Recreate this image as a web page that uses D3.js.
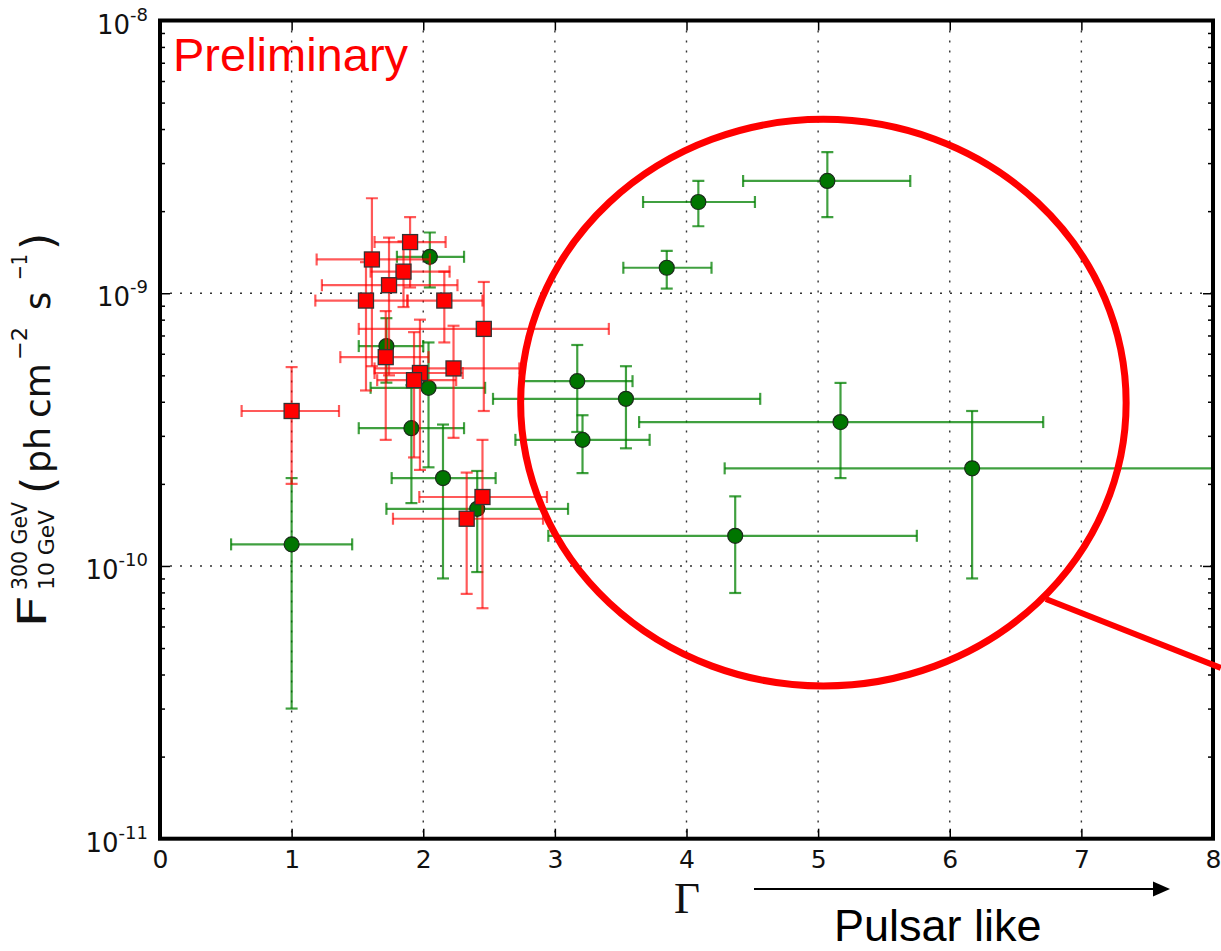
<!DOCTYPE html>
<html>
<head>
<meta charset="utf-8">
<script src="https://cdn.jsdelivr.net/npm/d3@7.9.0/dist/d3.min.js"></script>
<style>
  body { margin: 0; background: #fff; }
  svg { display: block; font-family: "DejaVu Sans", sans-serif; }
</style>
</head>
<body>
<div id="chart"></div>
<script>
// green sources (circles)
const greenGamma   = [1.00, 1.72, 2.04, 1.91, 2.15, 2.41, 2.05, 3.85, 4.09, 5.07, 3.17, 3.54, 3.21, 5.17, 6.17, 4.37];
const greenGammaLo = [0.54, 1.51, 1.60, 1.51, 1.76, 1.72, 1.80, 3.52, 3.67, 4.43, 2.75, 2.53, 2.70, 3.64, 4.29, 2.95];
const greenGammaHi = [1.46, 2.00, 2.47, 2.31, 2.55, 3.10, 2.31, 4.19, 4.52, 5.70, 3.59, 4.56, 3.72, 6.71, 8.60, 5.75];
const greenFlux    = [1.2e-10, 6.4e-10, 4.5e-10, 3.2e-10, 2.1e-10, 1.62e-10, 1.36e-9, 1.24e-9, 2.16e-9, 2.58e-9, 4.76e-10, 4.1e-10, 2.9e-10, 3.37e-10, 2.28e-10, 1.29e-10];
const greenFluxLo  = [3.0e-11, 4.7e-10, 2.3e-10, 1.7e-10, 9.0e-11, 9.5e-11, 1.05e-9, 1.04e-9, 1.76e-9, 1.9e-9, 3.1e-10, 2.7e-10, 2.19e-10, 2.1e-10, 9.0e-11, 7.96e-11];
const greenFluxHi  = [2.1e-10, 8.1e-10, 6.6e-10, 4.6e-10, 3.3e-10, 2.23e-10, 1.67e-9, 1.43e-9, 2.58e-9, 3.29e-9, 6.46e-10, 5.4e-10, 3.57e-10, 4.69e-10, 3.7e-10, 1.8e-10];

// red sources (squares)
const redGamma   = [1.61, 1.90, 1.85, 1.74, 1.565, 2.16, 2.46, 1.715, 1.975, 1.93, 2.23, 1.00, 2.45, 2.33];
const redGammaLo = [1.19, 1.63, 1.60, 1.23, 1.18, 1.88, 1.51, 1.37, 1.63, 1.65, 1.63, 0.62, 1.97, 1.77];
const redGammaHi = [2.05, 2.17, 2.20, 2.26, 1.88, 2.45, 3.41, 2.04, 2.30, 2.25, 2.73, 1.36, 2.94, 2.91];
const redFlux    = [1.33e-9, 1.54e-9, 1.2e-9, 1.07e-9, 9.4e-10, 9.4e-10, 7.4e-10, 5.83e-10, 5.1e-10, 4.8e-10, 5.3e-10, 3.7e-10, 1.79e-10, 1.49e-10];
const redFluxLo  = [5.4e-10, 1.05e-9, 8.9e-10, 5.0e-10, 4.4e-10, 6.6e-10, 3.7e-10, 2.9e-10, 2.25e-10, 2.5e-10, 2.95e-10, 2.0e-10, 7.0e-11, 7.9e-11];
const redFluxHi  = [2.23e-9, 1.9e-9, 1.55e-9, 1.6e-9, 1.3e-9, 1.2e-9, 1.1e-9, 8.6e-10, 8.0e-10, 7.2e-10, 7.6e-10, 5.36e-10, 2.9e-10, 2.2e-10];

const xTicks = [0, 1, 2, 3, 4, 5, 6, 7, 8];
const yTicks = [1e-11, 1e-10, 1e-9, 1e-8];
const yTickExp = ['-11', '-10', '-9', '-8'];

// annotation (in data units)
const ringGamma = [2.74, 7.34];
const ringFlux = [3.63e-11, 4.34e-9];
const pointerGamma = [6.73, 8.06];
const pointerFlux = [7.57e-11, 4.23e-11];

function toRows(g, gLo, gHi, f, fLo, fHi) {
  return g.map((d, i) => ({ g: d, gLo: gLo[i], gHi: gHi[i], f: f[i], fLo: fLo[i], fHi: fHi[i] }));
}
const greens = toRows(greenGamma, greenGammaLo, greenGammaHi, greenFlux, greenFluxLo, greenFluxHi);
const reds = toRows(redGamma, redGammaLo, redGammaHi, redFlux, redFluxLo, redFluxHi);

const width = 1221;
const height = 951;
const margin = { top: 20.5, right: 8, bottom: 112.3, left: 160 };

const svg = d3.select('#chart')
  .append('svg')
  .attr('width', width)
  .attr('height', height);

const x = d3.scaleLinear()
  .domain([0, 8])
  .range([margin.left, width - margin.right]);

const y = d3.scaleLog()
  .domain([1e-11, 1e-8])
  .range([height - margin.bottom, margin.top]);

const [x0, x1] = x.range();
const [yb, yt] = y.range();

svg.append('defs').append('clipPath').attr('id', 'plot-clip')
  .append('rect')
  .attr('x', x0).attr('y', yt)
  .attr('width', x1 - x0).attr('height', yb - yt);

// gridlines
const grid = svg.append('g')
  .attr('stroke', '#333')
  .attr('stroke-width', 1.4)
  .attr('stroke-dasharray', '2,8');

grid.selectAll('line.vx')
  .data(xTicks.slice(1, -1))
  .join('line')
  .attr('x1', d => x(d)).attr('x2', d => x(d))
  .attr('y1', yt).attr('y2', yb);

grid.selectAll('line.hy')
  .data(yTicks.slice(1, -1))
  .join('line')
  .attr('x1', x0).attr('x2', x1)
  .attr('y1', d => y(d)).attr('y2', d => y(d));

// minor decade ticks
const minors = [];
for (let e = -11; e < -8; e++) {
  for (let m = 2; m < 10; m++) minors.push(m * Math.pow(10, e));
}

function styleAxis(g) {
  g.select('.domain').remove();
  g.selectAll('.tick line').attr('stroke', '#000').attr('stroke-width', 1.5);
}

// bottom axis
svg.append('g')
  .attr('transform', `translate(0, ${yb})`)
  .call(d3.axisBottom(x).tickValues(xTicks).tickSizeInner(-10).tickSizeOuter(0).tickPadding(12))
  .call(styleAxis)
  .call(g => g.selectAll('text')
    .attr('font-size', 25)
    .attr('fill', '#111')
    .style('font-family', '"DejaVu Sans", sans-serif'));

// top axis
svg.append('g')
  .attr('transform', `translate(0, ${yt})`)
  .call(d3.axisTop(x).tickValues(xTicks).tickSizeInner(-10).tickSizeOuter(0).tickFormat(''))
  .call(styleAxis);

// left & right axes (major + minor)
svg.append('g')
  .attr('transform', `translate(${x0}, 0)`)
  .call(d3.axisLeft(y).tickValues(yTicks).tickSizeInner(-10).tickSizeOuter(0).tickFormat(''))
  .call(styleAxis);
svg.append('g')
  .attr('transform', `translate(${x0}, 0)`)
  .call(d3.axisLeft(y).tickValues(minors).tickSizeInner(-5).tickSizeOuter(0).tickFormat(''))
  .call(styleAxis);
svg.append('g')
  .attr('transform', `translate(${x1}, 0)`)
  .call(d3.axisRight(y).tickValues(yTicks).tickSizeInner(-10).tickSizeOuter(0).tickFormat(''))
  .call(styleAxis);
svg.append('g')
  .attr('transform', `translate(${x1}, 0)`)
  .call(d3.axisRight(y).tickValues(minors).tickSizeInner(-5).tickSizeOuter(0).tickFormat(''))
  .call(styleAxis);

// y tick labels: 10^exp
const yLab = svg.append('g')
  .selectAll('text')
  .data(yTicks)
  .join('text')
  .attr('text-anchor', 'end')
  .attr('x', x0 - 12)
  .attr('y', d => y(d) + 13)
  .attr('fill', '#111')
  .attr('font-size', 26);
yLab.append('tspan').text('10');
yLab.append('tspan')
  .attr('font-size', 18)
  .attr('dy', -13)
  .text((d, i) => yTickExp[i]);

// error bars + markers
function drawSeries(rows, color, barOpacity) {
  const g = svg.append('g').attr('clip-path', 'url(#plot-clip)');
  const bars = g.append('g')
    .attr('stroke', color)
    .attr('stroke-opacity', barOpacity)
    .attr('stroke-width', 2.2)
    .selectAll('g')
    .data(rows)
    .join('g');
  bars.append('line')
    .attr('x1', d => x(d.gLo)).attr('x2', d => x(d.gHi))
    .attr('y1', d => y(d.f)).attr('y2', d => y(d.f));
  bars.append('line')
    .attr('x1', d => x(d.g)).attr('x2', d => x(d.g))
    .attr('y1', d => y(d.fLo)).attr('y2', d => y(d.fHi));
  // caps
  bars.append('line')
    .attr('x1', d => x(d.gLo)).attr('x2', d => x(d.gLo))
    .attr('y1', d => y(d.f) - 6).attr('y2', d => y(d.f) + 6);
  bars.append('line')
    .attr('x1', d => x(d.gHi)).attr('x2', d => x(d.gHi))
    .attr('y1', d => y(d.f) - 6).attr('y2', d => y(d.f) + 6);
  bars.append('line')
    .attr('x1', d => x(d.g) - 6).attr('x2', d => x(d.g) + 6)
    .attr('y1', d => y(d.fLo)).attr('y2', d => y(d.fLo));
  bars.append('line')
    .attr('x1', d => x(d.g) - 6).attr('x2', d => x(d.g) + 6)
    .attr('y1', d => y(d.fHi)).attr('y2', d => y(d.fHi));
  return g;
}

const gGreen = drawSeries(greens, '#008000', 0.75);
gGreen.append('g')
  .selectAll('circle')
  .data(greens)
  .join('circle')
  .attr('cx', d => x(d.g))
  .attr('cy', d => y(d.f))
  .attr('r', 7.5)
  .attr('fill', '#007500')
  .attr('stroke', '#1b2b1b')
  .attr('stroke-width', 1.2);

const gRed = drawSeries(reds, '#ff0000', 0.65);
gRed.append('g')
  .selectAll('rect')
  .data(reds)
  .join('rect')
  .attr('x', d => x(d.g) - 7.5)
  .attr('y', d => y(d.f) - 7.5)
  .attr('width', 15)
  .attr('height', 15)
  .attr('fill', '#ff0000')
  .attr('stroke', '#333')
  .attr('stroke-width', 1.3);

// frame
svg.append('rect')
  .attr('x', x0).attr('y', yt)
  .attr('width', x1 - x0).attr('height', yb - yt)
  .attr('fill', 'none')
  .attr('stroke', '#000')
  .attr('stroke-width', 4);

// y axis label
const yl = svg.append('g')
  .attr('transform', 'translate(0, 628) rotate(-90)')
  .attr('fill', '#111');
const ylParts = [
  { t: 'F', x: 0, y: 46, s: 39, len: 33 },
  { t: '300 GeV', x: 38, y: 27, s: 22, len: 88 },
  { t: '10 GeV', x: 38, y: 54, s: 22, len: 80 },
  { t: '(', x: 134, y: 53, s: 44 },
  { t: 'ph', x: 155, y: 50, s: 35, len: 46 },
  { t: 'cm', x: 210, y: 50, s: 35, len: 55 },
  { t: '\u22122', x: 268, y: 27, s: 22, len: 33 },
  { t: 's', x: 318, y: 50, s: 35 },
  { t: '\u22121', x: 348, y: 27, s: 22, len: 26 },
  { t: ')', x: 378, y: 53, s: 44 }
];
yl.selectAll('text')
  .data(ylParts)
  .join('text')
  .attr('x', d => d.x)
  .attr('y', d => d.y)
  .attr('font-size', d => d.s)
  .attr('textLength', d => d.len ?? null)
  .attr('lengthAdjust', 'spacingAndGlyphs')
  .text(d => d.t);

// Preliminary
svg.append('text')
  .attr('x', 173)
  .attr('y', 71)
  .style('font-family', '"Liberation Sans", Arial, sans-serif')
  .attr('font-size', 47)
  .attr('fill', '#ff0000')
  .text('Preliminary');

// Gamma label
svg.append('text')
  .attr('x', 687)
  .attr('y', 913)
  .attr('text-anchor', 'middle')
  .style('font-family', '"Liberation Serif", "DejaVu Serif", serif')
  .attr('font-size', 45)
  .attr('fill', '#111')
  .text('\u0393');

// arrow + "Pulsar like"
svg.append('line')
  .attr('x1', 754).attr('x2', 1156)
  .attr('y1', 889).attr('y2', 889)
  .attr('stroke', '#000')
  .attr('stroke-width', 2);
svg.append('path')
  .attr('d', 'M1153,881.5 L1170,889 L1153,896.5 Z')
  .attr('fill', '#000');
svg.append('text')
  .attr('x', 834)
  .attr('y', 941)
  .style('font-family', '"Liberation Sans", Arial, sans-serif')
  .attr('font-size', 45)
  .attr('fill', '#000')
  .text('Pulsar like');

// red ring and pointer
const cx = (x(ringGamma[0]) + x(ringGamma[1])) / 2;
const cy = (y(ringFlux[0]) + y(ringFlux[1])) / 2;
svg.append('ellipse')
  .attr('cx', cx)
  .attr('cy', cy)
  .attr('rx', (x(ringGamma[1]) - x(ringGamma[0])) / 2)
  .attr('ry', (y(ringFlux[0]) - y(ringFlux[1])) / 2)
  .attr('fill', 'none')
  .attr('stroke', '#ff0000')
  .attr('stroke-width', 7);
svg.append('line')
  .attr('x1', x(pointerGamma[0])).attr('y1', y(pointerFlux[0]))
  .attr('x2', x(pointerGamma[1])).attr('y2', y(pointerFlux[1]))
  .attr('stroke', '#ff0000')
  .attr('stroke-width', 6);
</script>
</body>
</html>
